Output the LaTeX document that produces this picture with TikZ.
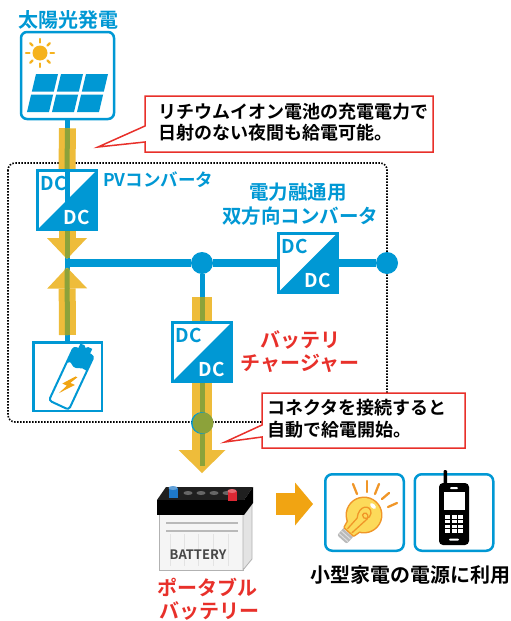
\documentclass[tikz,border=0pt]{standalone}
\usepackage{fontspec}
\setmainfont{Noto Sans CJK JP}[BoldFont={Noto Sans CJK JP Bold}]
\usetikzlibrary{arrows.meta,calc}
\pgfdeclarelayer{bg}
\pgfsetlayers{bg,main}

\definecolor{pvblue}{RGB}{0,152,212}
\definecolor{flowyellow}{RGB}{238,188,58}
\definecolor{flowolive}{RGB}{140,162,58}
\definecolor{outorange}{RGB}{241,164,18}
\definecolor{notered}{RGB}{232,48,42}
\definecolor{sunorange}{RGB}{245,178,30}
\definecolor{bulbyellow}{RGB}{252,218,90}
\definecolor{bulbline}{RGB}{240,150,40}
\definecolor{termblue}{RGB}{30,120,200}
\definecolor{termred}{RGB}{222,40,52}

\tikzset{
  jp/.code={%
    \pgfmathsetmacro\jpht{0.8*#1}%
    \pgfmathsetmacro\jpdp{0.04*#1}%
    \pgfkeysalso{inner sep=0pt, font=\bfseries\fontsize{#1}{#1}\selectfont,
      text height=\jpht pt, text depth=\jpdp pt}},
  dctxt/.style={inner sep=0pt, font=\bfseries\fontsize{19}{19}\selectfont,
    text height=13.8pt, text depth=0pt},
  dcframe/.style={draw=pvblue, line width=3pt, minimum size=59pt, inner sep=0pt},
  wire/.style={draw=pvblue, line width=5pt},
  busline/.style={draw=pvblue, line width=8pt},
  band/.style={draw=flowyellow, line width=#1},
  core/.style={draw=flowolive, line width=5pt},
  iconbox/.style={draw=pvblue, line width=2.5pt, rounded corners=7pt, fill=white,
    inner sep=0pt, minimum width=78.5pt, minimum height=76.5pt},
  callout/.style={draw=notered, line width=1.5pt, fill=white, line join=miter},
  joint/.style={circle, fill=pvblue, minimum size=22pt, inner sep=0pt},
  enclosure/.style={draw=black, line width=1.6pt, dash pattern=on 1.5pt off 1.5pt,
    rounded corners=7pt},
  pics/dcconv/.style={code={
    \fill[pvblue] (29.5,-29.5) -- (29.5,29.5) -- (-29.5,29.5) -- cycle;
    \node[dcframe] (-box) at (0,0) {};
    \node[dctxt, text=pvblue] (-in) at (-13,-16) {DC};
    \node[dctxt, text=white] (-out) at (10,18) {DC};
  }}
}

\begin{document}
\begin{tikzpicture}[x=1pt,y=-1pt]
\useasboundingbox (0,0) rectangle (511,621);
\begin{pgfonlayer}{bg}
  \fill[white] (0,0) rectangle (511,621);
\end{pgfonlayer}

% ---------- solar generator ----------
\node[jp=20, text=pvblue] (title) at (68,20) {太陽光発電};
\node[draw=pvblue, line width=2.5pt, rounded corners=6pt, minimum width=93pt,
      minimum height=87pt, inner sep=0pt] (panel) at (67.5,75.5) {};
\fill[sunorange] (40,53) circle[radius=7.5];
\foreach \a in {0,45,...,315}
  \draw[sunorange, line width=2.2pt, line cap=round]
    ($(40,53)+(\a:10.5)$) -- ($(40,53)+(\a:14)$);
\foreach \i in {0,1,2}{
  \foreach \j in {0,1}{
    \pgfmathsetmacro\ct{74+\j*20.5}
    \pgfmathsetmacro\cb{\ct+17.5}
    \pgfmathsetmacro\xl{36+\i*25-0.237*(\ct-74)}
    \pgfmathsetmacro\xb{\xl-0.237*17.5}
    \fill[pvblue] (\xl,\ct) -- (\xl+22,\ct) -- (\xb+22,\cb) -- (\xb,\cb) -- cycle;
  }}

% ---------- converters ----------
\pic (pv) at (67,200) {dcconv};
\pic (bidir) at (307.5,263) {dcconv};
\pic (chg) at (202,352) {dcconv};

\node[jp=17.5, text=pvblue, anchor=west] (pvlabel) at (103,180) {PVコンバータ};
\node[jp=19.5, text=pvblue] (bdlabel1) at (298,192) {電力融通用};
\node[jp=19.5, text=pvblue] (bdlabel2) at (300,216) {双方向コンバータ};
\node[jp=20, text=notered] (chlabel1) at (300,340) {バッテリ};
\node[jp=20, text=notered] (chlabel2) at (300,363) {チャージャー};

% ---------- storage cell ----------
\node[draw=pvblue, line width=2.5pt, minimum size=68.5pt, inner sep=0pt, fill=white]
  (cell) at (67.5,376.5) {};
\begin{scope}[shift={(72,377)}, rotate=-25]
  \fill[pvblue] (-6.5,-34) -- (-2,-34) -- (0,-32) -- (2,-34) -- (6.5,-34) -- (6.5,-27) -- (-6.5,-27) -- cycle;
  \filldraw[draw=pvblue, fill=white, line width=2pt, rounded corners=3pt] (-11,-28) rectangle (11,31);
  \fill[pvblue, rounded corners=2pt] (-11,-28) -- (11,-28) -- (11,-11)
     .. controls (5,-14) and (0,-8) .. (-5,-11) .. controls (-8,-13) .. (-11,-10) -- cycle;
  \fill[outorange] (3,-2) -- (-6,10) -- (-1,10) -- (-5,20) -- (6,6) -- (1,6) -- (5,-2) -- cycle;
\end{scope}

% ---------- bus joints ----------
\node[joint] (jA) at (202,263) {};
\node[joint] (jB) at (387,263) {};
\coordinate (busL) at (64.5,263);
\coordinate (tipPV) at (67,259);
\coordinate (tipCell) at (67,267.5);
\coordinate (tipChg) at (202,473);

% connector plug on the charger output
\node[circle, fill=pvblue, minimum size=22pt, inner sep=0pt] (plugring) at (202,423) {};
\node[circle, fill=flowolive, minimum size=21pt, inner sep=0pt] (plug) at (203,423) {};

\begin{pgfonlayer}{bg}
  % unit enclosure
  \draw[enclosure] (8,163) rectangle (387,422);
  % thin feeder lines
  \draw[wire] (panel.south) -- (cell.north);
  \draw[wire] (jA) -- (chg-box.north);
  % PV feed into the PV converter
  \draw[band=17pt] ($(panel.south)+(0,8)$) -- (pv-box.north);
  \draw[core] ($(panel.south)+(0,8)$) -- (pv-box.north);
  % PV converter output
  \draw[band=17pt, -{Triangle[width=40pt,length=21pt,line width=0pt]}] (pv-box.south) -- (tipPV);
  \draw[core] (pv-box.south) -- ($(tipPV)+(0,-1)$);
  % storage output
  \draw[band=17pt, -{Triangle[width=40pt,length=21pt,line width=0pt]}] ($(cell.north)+(0,-6)$) -- (tipCell);
  \draw[core] ($(cell.north)+(0,-6)$) -- ($(tipCell)+(0,1)$);
  % DC bus
  \draw[busline] (busL) -- (jA);
  \draw[busline] (jA) -- (bidir-box.west);
  \draw[busline] (bidir-box.east) -- (jB);
  % charger input and output
  \draw[band=20pt] ($(chg-box.north)+(0,-24)$) -- (chg-box.north);
  \draw[core] ($(chg-box.north)+(0,-24)$) -- (chg-box.north);
  \draw[band=20pt, -{Triangle[width=47pt,length=23pt,line width=0pt]}] (chg-box.south) -- (tipChg);
  \draw[core] (chg-box.south) -- ($(tipChg)+(0,-7)$);
\end{pgfonlayer}

% ---------- callouts ----------
\coordinate (tipA) at (98,147);
\draw[callout] (145,96) -- (433,96) -- (433,152) -- (145,152) -- (145,142) -- (tipA) -- (145,126) -- cycle;
\node[jp=18, anchor=west] (noteA1) at (158,112) {リチウムイオン電池の充電電力で};
\node[jp=18, anchor=west] (noteA2) at (158,133) {日射のない夜間も給電可能。};

\coordinate (tipB) at (225,442);
\draw[callout] (262,393) -- (465,393) -- (465,448) -- (262,448) -- (262,437) -- (tipB) -- (262,425) -- cycle;
\node[jp=18, anchor=west] (noteB1) at (267,408) {コネクタを接続すると};
\node[jp=18, anchor=west] (noteB2) at (267,430) {自動で給電開始。};

% ---------- portable battery ----------
\filldraw[fill=gray!8, draw=gray!60, line width=0.8pt] (159,513) -- (243,513) -- (243,570) -- (159,570) -- cycle;
\filldraw[fill=gray!22, draw=gray!60, line width=0.8pt] (243,513) -- (252,502) -- (252,559) -- (243,570) -- cycle;
\foreach \x in {170,184,198,213,228}
  \draw[gray!22, line width=1pt] (\x,534) -- (\x,566);
\draw[gray!55, line width=1.5pt] (166,523) -- (238,523);
\draw[gray!55, line width=1.5pt] (166,531) -- (238,531);
\fill[black!88] (157,500) -- (166,487) -- (253,487) -- (244,500) -- cycle;
\fill[black] (157,500) rectangle (244,515);
\fill[black] (244,500) -- (253,487) -- (253,503) -- (244,515) -- cycle;
\foreach \x in {188,201,214,227}
  \fill[black!60] (\x,493) ellipse[x radius=4.5, y radius=2];
\fill[termblue] (168.5,488) rectangle (177.5,498);
\fill[termblue!70!white] (173,488) ellipse[x radius=4.5, y radius=2];
\fill[termred] (227.5,491) rectangle (236.5,501);
\fill[termred!70!white] (232,491) ellipse[x radius=4.5, y radius=2];
\node[inner sep=0pt, font=\bfseries\fontsize{13}{13}\selectfont, text=black!72] (battxt) at (198,555) {BATTERY};

\node[jp=20, text=notered] (batlabel1) at (207,588) {ポータブル};
\node[jp=20, text=notered] (batlabel2) at (209,611) {バッテリー};

% output arrow
\coordinate (arrS) at (276,504);
\coordinate (arrE) at (313,504);
\draw[outorange, line width=22pt, -{Triangle[width=43pt,length=18pt,line width=0pt]}] (arrS) -- (arrE);

% ---------- appliances ----------
\node[iconbox] (lampbox) at (364.5,512.5) {};
\node[iconbox] (phonebox) at (454,512.5) {};

% lamp
\foreach \a/\b/\c/\d in {353/484/357/494, 367/481/367/492, 379/484/375/494, 389/493/382/499, 397/503/388/507}
  \draw[bulbline, line width=2.3pt, line cap=round] (\a,\b) -- (\c,\d);
\begin{scope}[shift={(364,515)}, rotate=-42]
  \fill[gray!55, rounded corners=2pt] (-6.5,20) rectangle (6.5,33);
  \foreach \r in {23.5,27,30.5}
    \draw[gray!25, line width=1pt] (-6,\r) -- (6,\r);
  \draw[bulbline, line width=3pt] (0,0) circle[radius=17];
  \draw[bulbline, line width=3pt, line join=round] (-8,13) -- (-6,22) -- (6,22) -- (8,13);
  \fill[bulbyellow] (0,0) circle[radius=17];
  \fill[bulbyellow] (-8,13) -- (-6,22) -- (6,22) -- (8,13) -- cycle;
  \draw[bulbline, line width=1.3pt, line cap=round]
    (-3,21) -- (-3,7) .. controls (-11,-4) and (-2,-13) .. (4,-6)
    .. controls (8,-1) and (2,5) .. (-1,1) .. controls (-3,-2) and (3,-6) .. (5,1) -- (3,21);
\end{scope}
\fill[white, rotate around={-45:(373,506)}] (373,506) ellipse[x radius=3.5, y radius=2];

% phone
\fill[black, rounded corners=1pt] (443.5,470) rectangle (447,486);
\fill[black, rounded corners=4pt] (439,483) rectangle (469,545);
\fill[white] (443.5,492) rectangle (464.5,510);
\fill[white, rounded corners=1pt] (450,487) rectangle (458,489);
\foreach \r in {0,...,3}
  \foreach \c in {0,1,2}
    \fill[white] (445+\c*6.5,515+\r*4.8) rectangle ++(5,3.5);
\fill[white, rounded corners=1pt] (449,538.5) rectangle (459,540.5);

\node[jp=20] (uselabel) at (410,575) {小型家電の電源に利用};
\end{tikzpicture}
\end{document}
